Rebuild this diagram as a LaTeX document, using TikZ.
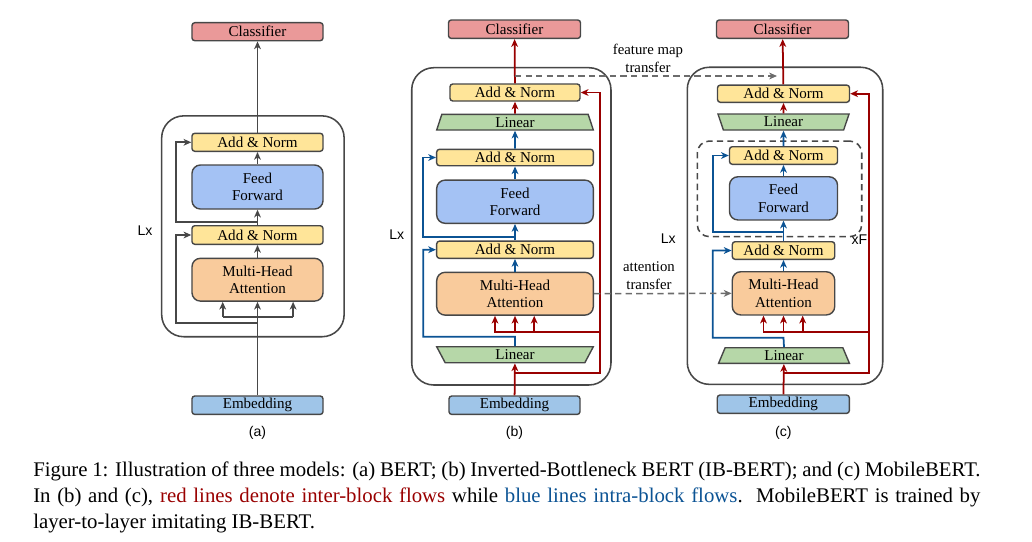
\documentclass[tikz,border=0pt]{standalone}
\usepackage{fontspec}
\setmainfont{Liberation Serif}
\newfontfamily\labelfont{Liberation Sans}
\usetikzlibrary{shapes,arrows.meta,positioning,calc}

\definecolor{clsfill}{HTML}{EA9999}
\definecolor{normfill}{HTML}{FFE599}
\definecolor{fffill}{HTML}{A4C2F4}
\definecolor{attfill}{HTML}{F9CB9C}
\definecolor{embfill}{HTML}{9FC5E8}
\definecolor{linfill}{HTML}{B6D7A8}
\definecolor{edgegray}{HTML}{474747}
\definecolor{interred}{HTML}{990000}
\definecolor{intrablue}{HTML}{0B5394}

\begin{document}
\begin{tikzpicture}[
    x=0.025cm, y=-0.025cm,
    >={Stealth[length=5.5pt, width=4.8pt, inset=1.6pt]},
    box/.style={rectangle, draw=edgegray, line width=1pt, rounded corners=2pt, inner sep=0pt, align=center, text=black, font=\fontsize{10.7}{12.3}\selectfont},
    bigbox/.style={box, rounded corners=6pt},
    trap/.style={trapezium, draw=edgegray, line width=1pt, fill=linfill, trapezium stretches body, inner sep=0pt, text=black, font=\fontsize{10.7}{12.3}\selectfont},
    outer/.style={rectangle, draw=edgegray, line width=1.1pt, rounded corners=0.55cm},
    dashbox/.style={rectangle, draw=edgegray, line width=1.1pt, dash pattern=on 4.5pt off 3pt, rounded corners=0.3cm},
    plainline/.style={line width=1.25pt, draw=edgegray},
    arrow/.style={->, line width=1.25pt, draw=edgegray},
    redline/.style={plainline, draw=interred},
    redarrow/.style={arrow, draw=interred},
    bluearrow/.style={arrow, draw=intrablue},
    transfer/.style={->, line width=1.1pt, draw=gray!85!black, dash pattern=on 4.5pt off 3pt},
    note/.style={align=center, inner sep=0pt, text=black, font=\fontsize{10.5}{12.7}\selectfont},
    tag/.style={inner sep=0pt, text=black, font=\labelfont\fontsize{10}{12}\selectfont},
    caption/.style={anchor=north west, text width=23.675cm, align=justify, inner sep=0pt, font=\fontsize{14.8}{18.5}\selectfont}
]
\useasboundingbox (0,0) rectangle (1032,541);

% (a) BERT
\node[outer, minimum width=4.56cm, minimum height=5.52cm] (blkA) at (252.9,226.3) {};
\node[box, fill=clsfill, minimum width=3.275cm, minimum height=0.45cm] (clsA) at (257.5,31.7) {Classifier};
\node[box, fill=normfill, minimum width=3.275cm, minimum height=0.45cm] (anA1) at (257.5,142.3) {Add \& Norm};
\node[bigbox, fill=fffill, minimum width=3.275cm, minimum height=1.1cm] (ffA) at (257.5,187) {Feed\\Forward};
\node[box, fill=normfill, minimum width=3.275cm, minimum height=0.465cm] (anA2) at (257.5,235) {Add \& Norm};
\node[bigbox, fill=attfill, minimum width=3.275cm, minimum height=1.07cm] (mhA) at (257.5,279.7) {Multi-Head\\Attention};
\node[box, fill=embfill, minimum width=3.275cm, minimum height=0.46cm] (embA) at (257.5,405.2) {Embedding};
\node[tag] (lxA) at (145,230.7) {Lx};
\node[tag] (capA) at (257.5,433) {(a)};

\draw[arrow] (embA) -- (mhA);
\draw[arrow] (mhA) -- (anA2);
\draw[arrow] (anA2) -- (ffA);
\draw[arrow] (ffA) -- (anA1);
\draw[arrow] (anA1) -- (clsA);
\coordinate (rsA1) at (257.5,323.3);
\coordinate (rsA2) at (257.5,221.7);
\coordinate (inA) at (257.5,316.7);
\draw[arrow] (rsA1) -- ++(-81.5,0) |- (anA2.west);
\draw[arrow] (rsA2) -- ++(-81.5,0) |- (anA1.west);
\draw[plainline] ([xshift=-0.87cm]inA) -- ([xshift=0.89cm]inA);
\foreach \dx in {-0.87,0.89}
    \draw[arrow] ([xshift=\dx cm]inA) -- ([xshift=\dx cm]mhA.south);

% (b) IB-BERT
\node[outer, minimum width=4.98cm, minimum height=7.93cm] (blkB) at (511.35,226.35) {};
\node[box, fill=clsfill, minimum width=3.3cm, minimum height=0.46cm] (clsB) at (514.5,29.2) {Classifier};
\node[box, fill=normfill, minimum width=3.25cm, minimum height=0.425cm] (anB1) at (515,92.5) {Add \& Norm};
\node[trap, trapezium angle=63, minimum width=3.915cm, minimum height=0.39cm] (linB1) at (515,122.2) {Linear};
\node[box, fill=normfill, minimum width=3.915cm, minimum height=0.41cm] (anB2) at (515,157.5) {Add \& Norm};
\node[bigbox, fill=fffill, minimum width=3.915cm, minimum height=1.08cm] (ffB) at (515,201.7) {Feed\\Forward};
\node[box, fill=normfill, minimum width=3.915cm, minimum height=0.43cm] (anB3) at (515,249.7) {Add \& Norm};
\node[bigbox, fill=attfill, minimum width=3.915cm, minimum height=1.07cm] (mhB) at (515,293.7) {Multi-Head\\Attention};
\node[trap, trapezium angle=50, shape border rotate=180, minimum width=3.915cm, minimum height=0.4cm] (linB2) at (515,354.7) {Linear};
\node[box, fill=embfill, minimum width=3.275cm, minimum height=0.46cm] (embB) at (514.5,405.2) {Embedding};
\node[tag] (lxB) at (396.7,235) {Lx};
\node[tag] (capB) at (514.5,433) {(b)};

% inter-block (red)
\coordinate (rB0) at (515,373.3);
\coordinate (rB1) at (600,373.3);
\coordinate (rB2) at (600,331.7);
\draw[redarrow] (embB) -- (linB2);
\draw[redarrow] (rB0) -- (rB1) |- (anB1.east);
\draw[redline] (rB2) -- ++(-105,0);
\foreach \dx in {-0.5,0,0.48}
    \draw[redarrow] ([xshift=\dx cm]mhB.south) ++(0,16.7) -- ([xshift=\dx cm]mhB.south);
\draw[redarrow] (linB1) -- (anB1);
\draw[redarrow] (anB1) -- (clsB);

% intra-block (blue)
\coordinate (bB0) at (515,336.7);
\coordinate (bB1) at (515,236.7);
\draw[bluearrow] (linB2.north) -- (bB0) -- ++(-91.7,0) |- (anB3.west);
\draw[bluearrow] (mhB) -- (anB3);
\draw[bluearrow] (anB3) -- (ffB);
\draw[bluearrow] (bB1) -- ++(-91.7,0) |- (anB2.west);
\draw[bluearrow] (ffB) -- (anB2);
\draw[bluearrow] (anB2) -- (linB1);

% (c) MobileBERT
\node[outer, minimum width=4.885cm, minimum height=7.925cm] (blkC) at (785,225.8) {};
\node[dashbox, minimum width=4.11cm, minimum height=2.39cm] (repC) at (779.5,188.85) {};
\node[box, fill=clsfill, minimum width=3.3cm, minimum height=0.46cm] (clsC) at (782.5,29.2) {Classifier};
\node[box, fill=normfill, minimum width=3.3cm, minimum height=0.43cm] (anC1) at (783.5,93.7) {Add \& Norm};
\node[trap, trapezium angle=62, shape border rotate=180, minimum width=3.275cm, minimum height=0.4cm] (linC1) at (783.5,122) {Linear};
\node[box, fill=normfill, minimum width=2.7cm, minimum height=0.44cm] (anC2) at (783.5,155.5) {Add \& Norm};
\node[bigbox, fill=fffill, minimum width=2.7cm, minimum height=1.08cm] (ffC) at (783.5,198.35) {Feed\\Forward};
\node[box, fill=normfill, minimum width=2.56cm, minimum height=0.44cm] (anC3) at (783.5,250.5) {Add \& Norm};
\node[bigbox, fill=attfill, minimum width=2.56cm, minimum height=1.08cm] (mhC) at (783.5,293.35) {Multi-Head\\Attention};
\node[trap, trapezium angle=57, minimum width=3.27cm, minimum height=0.39cm] (linC2) at (784,355.5) {Linear};
\node[box, fill=embfill, minimum width=3.3cm, minimum height=0.46cm] (embC) at (783.3,404.2) {Embedding};
\node[tag] (lxC) at (668.3,238.3) {Lx};
\node[tag] (xfC) at (859.3,239.3) {xF};
\node[tag] (capC) at (783.3,433) {(c)};

% inter-block (red)
\coordinate (rC0) at (783.5,373.3);
\coordinate (rC1) at (869.3,373.3);
\coordinate (rC2) at (869.3,331.7);
\draw[redarrow] (embC) -- (linC2);
\draw[redarrow] (rC0) -- (rC1) |- (anC1.east);
\draw[redline] (rC2) -- ++(-106,0);
\foreach \dx in {-0.5,0,0.48}
    \draw[redarrow] ([xshift=\dx cm]mhC.south) ++(0,16.7) -- ([xshift=\dx cm]mhC.south);
\draw[redarrow] (linC1) -- (anC1);
\draw[redarrow] (anC1) -- (clsC);

% intra-block (blue)
\coordinate (bC0) at (783.5,337.7);
\coordinate (bC1) at (783.5,232.3);
\draw[bluearrow] (linC2.north) -- (bC0) -- ++(-70.8,0) |- (anC3.west);
\draw[bluearrow] (mhC) -- (anC3);
\draw[bluearrow] (anC3) -- (ffC);
\draw[bluearrow] (bC1) -- ++(-70.3,0) |- (anC2.west);
\draw[bluearrow] (ffC) -- (anC2);
\draw[bluearrow] (anC2) -- (linC1);

% transfer between (b) and (c)
\coordinate (fmB) at (515,76);
\coordinate (fmC) at (777,76);
\draw[transfer] (fmB) -- (fmC);
\draw[transfer] (mhB.east) -- (mhC.west);
\node[note] (fmT) at (648,58.3) {feature map\\transfer};
\node[note] (atT) at (649,276) {attention\\transfer};

% caption
\node[caption] (capt) at (33,462) {Figure 1: Illustration of three models: (a) BERT; (b) Inverted-Bottleneck BERT (IB-BERT); and (c) MobileBERT.\linebreak
In (b) and (c), \textcolor{interred}{red lines denote inter-block flows} while \textcolor{intrablue}{blue lines intra-block flows}.\ \ MobileBERT is trained by\linebreak
layer-to-layer imitating IB-BERT.};

\end{tikzpicture}
\end{document}
